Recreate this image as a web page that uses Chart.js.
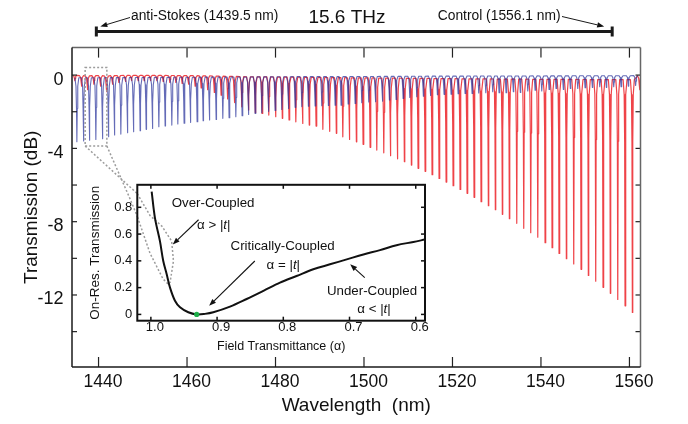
<!DOCTYPE html>
<html><head><meta charset="utf-8">
<script src="https://cdn.jsdelivr.net/npm/chart.js@4.4.1/dist/chart.umd.min.js"></script>
<style>
html,body{margin:0;padding:0;background:#fff;}
#wrap{position:relative;width:688px;height:424px;overflow:hidden;background:#fff;}
#main{position:absolute;left:0;top:0;z-index:1;}
#inset{position:absolute;left:60px;top:172px;z-index:2;}
</style></head>
<body><div id="wrap"><canvas id="main" width="688" height="424"></canvas><canvas id="inset" width="380" height="190"></canvas></div>
<script>
// ---------------- data ----------------
const blueWavelength = [1435.10, 1436.59, 1437.94, 1439.39, 1440.88, 1442.24, 1443.59, 1445.04, 1446.53, 1447.89, 1449.40, 1450.76, 1452.18, 1453.63, 1455.05, 1456.56, 1457.92, 1459.34, 1460.77, 1462.28, 1463.64, 1465.06,
 1466.58, 1468.09, 1469.51, 1471.03, 1472.45, 1473.88, 1475.39, 1476.90, 1478.40, 1479.91, 1481.42, 1482.92, 1484.43, 1485.94, 1487.43, 1488.95, 1490.46, 1491.95, 1493.47,
 1494.82, 1496.41, 1497.99, 1499.50, 1501.08, 1502.58, 1504.16, 1505.74, 1507.25, 1508.84, 1510.35, 1511.93, 1513.42, 1515.01, 1516.59, 1518.10, 1519.68, 1521.27, 1522.85, 1524.43, 1525.94, 1527.53,
 1529.10, 1530.53, 1532.11, 1533.76, 1535.34, 1537.02, 1538.67, 1540.18, 1541.83, 1543.41, 1545.06, 1546.64, 1548.32, 1549.97, 1551.62, 1553.29, 1554.78, 1556.45, 1558.10, 1559.75, 1561.40];
const blueDepth = [-3.64, -3.60, -3.55, -3.51, -3.47, -3.36, -3.27, -3.22, -3.15, -3.09, -3.04, -2.96, -2.91, -2.82, -2.78, -2.73, -2.67, -2.63, -2.58, -2.55, -2.49, -2.45,
 -2.42, -2.36, -2.33, -2.27, -2.22, -2.15, -2.09, -2.05, -1.98, -1.93, -1.88, -1.82, -1.76, -1.72, -1.70, -1.68, -1.67, -1.66, -1.65,
 -1.64, -1.58, -1.55, -1.51, -1.47, -1.45, -1.42, -1.36, -1.33, -1.27, -1.22, -1.18, -1.15, -1.11, -1.07, -1.05, -1.04, -1.02, -1.00, -1.00, -0.98, -0.96,
 -0.91, -0.96, -0.96, -0.91, -0.95, -0.86, -0.82, -0.86, -0.78, -0.73, -0.78, -0.73, -0.73, -0.69, -0.67, -0.64, -0.67, -0.64, -0.64, -0.60, -0.56];
const redWavelength = [1434.64, 1436.14, 1437.49, 1438.94, 1440.43, 1441.79, 1443.14, 1444.59, 1446.08, 1447.44, 1448.95, 1450.31, 1451.73, 1453.18, 1454.60, 1456.11, 1457.47, 1458.89, 1460.32, 1461.83, 1463.19, 1464.66, 1466.17, 1467.71, 1469.18, 1470.71,
 1472.38, 1473.90, 1475.43, 1476.96, 1478.48, 1480.01, 1481.54, 1483.06, 1484.59, 1486.12, 1487.63, 1489.17, 1490.70, 1492.21, 1493.75,
 1495.21, 1496.70, 1498.28, 1499.80, 1501.38, 1502.89, 1504.47, 1505.97, 1507.55, 1509.13, 1510.71, 1512.23, 1513.81, 1515.39, 1516.97, 1518.56, 1520.14, 1521.72, 1523.30, 1524.88, 1526.46, 1528.11,
 1529.69, 1531.27, 1532.86, 1534.53, 1536.11, 1537.69, 1539.28, 1540.93, 1542.51, 1544.09, 1545.74, 1547.41, 1549.06, 1550.71, 1552.38, 1554.03, 1555.68, 1557.36, 1559.01, 1560.66, 1562.29];
const redDepth = [-0.30, -0.60, -0.80, -0.50, -0.60, -0.90, -0.50, -0.40, -0.35, -0.30, -0.30, -0.30, -0.30, -0.30, -0.35, -0.40, -0.40, -0.45, -0.50, -0.60, -0.70, -0.80, -0.95, -1.10, -1.30, -1.50,
 -1.73, -1.91, -2.05, -2.09, -2.18, -2.27, -2.36, -2.45, -2.55, -2.64, -2.73, -2.78, -2.96, -3.07, -3.18,
 -3.37, -3.51, -3.64, -3.78, -3.94, -4.09, -4.24, -4.40, -4.57, -4.73, -4.91, -5.09, -5.25, -5.44, -5.64, -5.84, -6.04, -6.24, -6.45, -6.67, -6.91, -7.13,
 -7.35, -7.60, -7.84, -8.09, -8.36, -8.60, -8.85, -9.15, -9.42, -9.73, -10.02, -10.31, -10.60, -10.93, -11.25, -11.58, -11.91, -12.24, -12.59, -12.95, -0.80];

const xTickValues = [1440, 1460, 1480, 1500, 1520, 1540, 1560];
const yTickValues = [0, -2, -4, -6, -8, -10, -12, -14];
const yTickLabels = [0, -4, -8, -12];

const antiStokesNm = 1439.5, controlNm = 1556.1;
const spanLabel = '15.6 THz';
const antiStokesLabel = 'anti-Stokes (1439.5 nm)';
const controlLabel = 'Control (1556.1 nm)';

// inset: on-resonance transmission vs field transmittance
const insetAlpha = [0.9988, 0.9938, 0.9863, 0.9813, 0.9761, 0.9711, 0.9636, 0.956, 0.9435, 0.9308, 0.9183, 0.9057, 0.8805, 0.8553, 0.830, 0.805, 0.780, 0.7547, 0.7295, 0.7042, 0.679, 0.654, 0.629, 0.6036, 0.586];
const insetTransmission = [0.917, 0.719, 0.547, 0.399, 0.30, 0.20, 0.102, 0.053, 0.016, 0.0, 0.004, 0.016, 0.058, 0.115, 0.176, 0.238, 0.287, 0.337, 0.374, 0.411, 0.448, 0.48, 0.517, 0.541, 0.559];
const criticalAlpha = [0.9308], criticalTransmission = [0];
const insetXTicks = [1.0, 0.9, 0.8, 0.7, 0.6];
const insetYTicks = [0, 0.2, 0.4, 0.6, 0.8];

// zoom-box (main coords) and projection outline (inset coords)
const zoomBoxNm = [1436.97, 1441.88], zoomBoxDb = [0.42, -3.87];
const projLine1 = {alpha: [1.0205, 1.0014, 0.9832, 0.9686, 0.9659, 0.9711], T: [0.902, 0.739, 0.658, 0.547, 0.399, 0.236]};
const projLine2 = {alpha: [1.0316, 1.0205, 1.0014, 0.9817, 0.9742], T: [0.865, 0.732, 0.458, 0.265, 0.228]};

// ---------------- helpers ----------------
const FONT = "'Liberation Sans', Arial, Helvetica, sans-serif";
Chart.defaults.font.family = FONT;
Chart.defaults.color = '#111';
const INSET_LEFT = 60, INSET_TOP = 172;

// resonance-dip mark shape: offset (nm) and Lorentzian fraction of the dip
const dipShape = [[-0.44, 0.059], [-0.2, 0.23], [-0.088, 0.6], [0, 1], [0.088, 0.6], [0.2, 0.23], [0.44, 0.059]];
function dipSeries(centers, depths) {
  const pts = [];
  centers.forEach((c, i) => {
    const D = 1 - Math.pow(10, depths[i] / 10);
    dipShape.forEach(([dx, f]) => pts.push({x: c + dx, y: 10 * Math.log10(1 - D * f)}));
  });
  return pts;
}
function line(ctx, x1, y1, x2, y2) { ctx.beginPath(); ctx.moveTo(x1, y1); ctx.lineTo(x2, y2); ctx.stroke(); }
function arrow(ctx, x1, y1, x2, y2, head, half) {
  head = head || 7; half = half || 2.6;
  const ang = Math.atan2(y2 - y1, x2 - x1);
  const bx = x2 - head * Math.cos(ang), by = y2 - head * Math.sin(ang);
  line(ctx, x1, y1, bx, by);
  ctx.beginPath();
  ctx.moveTo(x2, y2);
  ctx.lineTo(bx + half * Math.sin(ang), by - half * Math.cos(ang));
  ctx.lineTo(bx - half * Math.sin(ang), by + half * Math.cos(ang));
  ctx.closePath(); ctx.fill();
}
function richText(ctx, parts, cx, cy, size) {
  let w = 0;
  const widths = parts.map(([t, it]) => { ctx.font = (it ? 'italic ' : '') + size + 'px ' + FONT; const m = ctx.measureText(t).width; w += m; return m; });
  let x = cx - w / 2;
  ctx.textAlign = 'left'; ctx.textBaseline = 'middle';
  parts.forEach(([t, it], i) => { ctx.font = (it ? 'italic ' : '') + size + 'px ' + FONT; ctx.fillText(t, x, cy); x += widths[i]; });
}

// ---------------- inset chart ----------------
const insetNotes = [
  {parts: [['Over-Coupled', false]], a: 0.906, t: 0.832},
  {parts: [['α > |', false], ['t', true], ['|', false]], a: 0.905, t: 0.665},
  {parts: [['Critically-Coupled', false]], a: 0.801, t: 0.51},
  {parts: [['α = |', false], ['t', true], ['|', false]], a: 0.800, t: 0.369},
  {parts: [['Under-Coupled', false]], a: 0.666, t: 0.176},
  {parts: [['α < |', false], ['t', true], ['|', false]], a: 0.663, t: 0.036}
];
const insetArrows = [
  {from: [0.928, 0.707], to: [0.967, 0.522]},
  {from: [0.843, 0.399], to: [0.912, 0.065]},
  {from: [0.677, 0.275], to: [0.699, 0.374]}
];

const insetPlugin = {
  id: 'insetPlugin',
  beforeDraw(c) {
    const {ctx, chartArea: a} = c;
    ctx.save(); ctx.fillStyle = '#fff'; ctx.fillRect(a.left, a.top, a.right - a.left, a.bottom - a.top); ctx.restore();
  },
  beforeDatasetsDraw(c) {
    const {ctx, chartArea: a, scales: {x, y}} = c;
    ctx.save();
    ctx.beginPath(); ctx.rect(a.left, a.top, a.right - a.left, a.bottom - a.top); ctx.clip();
    ctx.strokeStyle = '#9c9c9c'; ctx.lineWidth = 1.5; ctx.setLineDash([2, 2]);
    [projLine1, projLine2].forEach(L => {
      ctx.beginPath();
      L.alpha.forEach((al, i) => { const px = x.getPixelForValue(al), py = y.getPixelForValue(L.T[i]); i ? ctx.lineTo(px, py) : ctx.moveTo(px, py); });
      ctx.stroke();
    });
    ctx.restore();
  },
  afterDraw(c) {
    const {ctx, chartArea: a, scales: {x, y}} = c;
    ctx.save();
    ctx.strokeStyle = '#111'; ctx.lineWidth = 1.5;
    insetXTicks.forEach(v => { const px = x.getPixelForValue(v); line(ctx, px, a.bottom, px, a.bottom - 4); line(ctx, px, a.top, px, a.top + 4); });
    insetYTicks.forEach(v => { const py = y.getPixelForValue(v); line(ctx, a.left, py, a.left + 4, py); line(ctx, a.right, py, a.right - 4, py); });
    ctx.lineWidth = 2;
    ctx.strokeRect(a.left, a.top, a.right - a.left, a.bottom - a.top);
    ctx.fillStyle = '#111';
    insetNotes.forEach(n => richText(ctx, n.parts, x.getPixelForValue(n.a), y.getPixelForValue(n.t), 13.3));
    ctx.lineWidth = 1.1;
    insetArrows.forEach(ar => arrow(ctx, x.getPixelForValue(ar.from[0]), y.getPixelForValue(ar.from[1]), x.getPixelForValue(ar.to[0]), y.getPixelForValue(ar.to[1]), 7, 2.6));
    ctx.restore();
  }
};

const insetChart = new Chart(document.getElementById('inset'), {
  type: 'line',
  data: {datasets: [
    {data: criticalAlpha.map((a, i) => ({x: a, y: criticalTransmission[i]})), showLine: false, pointRadius: 2.6, pointBackgroundColor: '#1fae4a', pointBorderWidth: 0},
    {data: insetAlpha.map((a, i) => ({x: a, y: insetTransmission[i]})), borderColor: '#111', borderWidth: 2, pointRadius: 0, tension: 0.35, fill: false}
  ]},
  options: {
    responsive: false, animation: false, devicePixelRatio: 1,
    layout: {padding: {left: 0, right: 15, top: 10.7, bottom: 0}},
    plugins: {legend: {display: false}, tooltip: {enabled: false}},
    scales: {
      x: {type: 'linear', reverse: true, min: 0.586, max: 1.0205,
        grid: {display: false, drawTicks: false}, border: {display: false},
        afterBuildTicks: s => { s.ticks = insetXTicks.map(v => ({value: v})); },
        ticks: {autoSkip: false, maxRotation: 0, padding: 0.5, labelOffset: 4, font: {size: 13, lineHeight: 1}, color: '#111', callback: v => Number(v).toFixed(1)},
        title: {display: true, text: 'Field Transmittance (α)', font: {size: 12.5}, color: '#111', padding: {top: 0, bottom: 8}},
        afterFit: s => { s.height = 41.3; }
      },
      y: {type: 'linear', min: -0.047, max: 0.968,
        grid: {display: false, drawTicks: false}, border: {display: false},
        afterBuildTicks: s => { s.ticks = insetYTicks.map(v => ({value: v})); },
        ticks: {autoSkip: false, padding: 5, font: {size: 13}, color: '#111', callback: v => v === 0 ? '0' : Number(v).toFixed(1)},
        title: {display: true, text: 'On-Res. Transmission', font: {size: 13.5}, color: '#111', padding: {top: 27.4, bottom: 0}},
        afterFit: s => { s.width = 77.3; }
      }
    }
  },
  plugins: [insetPlugin]
});

// ---------------- main chart ----------------
const mainPlugin = {
  id: 'mainPlugin',
  beforeDraw(c) { const {ctx} = c; ctx.save(); ctx.fillStyle = '#fff'; ctx.fillRect(0, 0, c.width, c.height); ctx.restore(); },
  afterDraw(c) {
    const {ctx, chartArea: a, scales: {x, y}} = c;
    ctx.save();
    // inward ticks
    ctx.strokeStyle = '#222'; ctx.lineWidth = 1.2;
    xTickValues.forEach(v => { const px = x.getPixelForValue(v); line(ctx, px, a.bottom, px, a.bottom - 10); line(ctx, px, a.top, px, a.top + 10); });
    yTickValues.forEach(v => { const py = y.getPixelForValue(v); line(ctx, a.left, py, a.left + 5, py); line(ctx, a.right, py, a.right - 5, py); });
    // frame
    ctx.lineWidth = 1.5;
    ctx.strokeStyle = '#666';
    line(ctx, a.left, a.top, a.right, a.top); line(ctx, a.right, a.top, a.right, a.bottom);
    ctx.strokeStyle = '#1a1a1a';
    line(ctx, a.left, a.top, a.left, a.bottom); line(ctx, a.left, a.bottom, a.right, a.bottom);

    // zoom box + projection lines to inset
    const bx1 = x.getPixelForValue(zoomBoxNm[0]), bx2 = x.getPixelForValue(zoomBoxNm[1]);
    const by1 = y.getPixelForValue(zoomBoxDb[0]), by2 = y.getPixelForValue(zoomBoxDb[1]);
    ctx.strokeStyle = '#9c9c9c'; ctx.lineWidth = 1.5; ctx.setLineDash([2, 2]);
    ctx.strokeRect(bx1, by1, bx2 - bx1, by2 - by1);
    const ix = insetChart.scales.x, iy = insetChart.scales.y;
    [[bx1, projLine1], [bx2, projLine2]].forEach(([sx, L]) => {
      ctx.beginPath(); ctx.moveTo(sx, by2);
      L.alpha.forEach((al, i) => ctx.lineTo(INSET_LEFT + ix.getPixelForValue(al), INSET_TOP + iy.getPixelForValue(L.T[i])));
      ctx.stroke();
    });
    ctx.setLineDash([]);

    // top span annotation
    const x1 = x.getPixelForValue(antiStokesNm), x2 = x.getPixelForValue(controlNm);
    const yb = 31.5;
    ctx.strokeStyle = '#1a1a1a'; ctx.fillStyle = '#1a1a1a';
    ctx.lineWidth = 3;
    line(ctx, x1, yb, x2, yb);
    line(ctx, x1, yb - 5, x1, yb + 5); line(ctx, x2, yb - 5, x2, yb + 5);
    ctx.fillStyle = '#111';
    ctx.textBaseline = 'middle';
    ctx.font = '19px ' + FONT; ctx.textAlign = 'center'; ctx.fillText(spanLabel, 347, 17.5);
    ctx.font = '13.8px ' + FONT; ctx.textAlign = 'left'; ctx.fillText(antiStokesLabel, 131, 16);
    ctx.textAlign = 'right'; ctx.fillText(controlLabel, 560.5, 16);
    ctx.lineWidth = 1;
    arrow(ctx, 130, 17.5, x1 + 4, 26.5, 7, 2.6);
    arrow(ctx, 562, 16.5, x2 - 8, 26.5, 7, 2.6);
    ctx.restore();
  }
};

new Chart(document.getElementById('main'), {
  type: 'line',
  data: {datasets: [
    {data: dipSeries(blueWavelength, blueDepth), borderColor: 'rgba(40,50,155,0.72)', borderWidth: 1.1, pointRadius: 0, borderJoinStyle: 'round', tension: 0, fill: false},
    {data: dipSeries(redWavelength, redDepth), borderColor: 'rgba(236,34,40,0.85)', borderWidth: 1.2, pointRadius: 0, borderJoinStyle: 'round', tension: 0, fill: false}
  ]},
  options: {
    responsive: false, animation: false, devicePixelRatio: 1,
    layout: {padding: {left: 0, right: 47.5, top: 47.6, bottom: 0}},
    plugins: {legend: {display: false}, tooltip: {enabled: false}},
    scales: {
      x: {type: 'linear', min: 1434, max: 1562.5,
        grid: {display: false, drawTicks: false}, border: {display: false},
        afterBuildTicks: s => { s.ticks = xTickValues.map(v => ({value: v})); },
        ticks: {autoSkip: false, maxRotation: 0, padding: 5, labelOffset: 4.5, font: {size: 17.5}, color: '#111', callback: v => String(v)},
        title: {display: true, text: 'Wavelength  (nm)', font: {size: 19}, color: '#111', padding: {top: 0, bottom: 6.6}},
        afterFit: s => { s.height = 57; }
      },
      y: {type: 'linear', min: -15.93, max: 1.5,
        grid: {display: false, drawTicks: false}, border: {display: false},
        afterBuildTicks: s => { s.ticks = yTickValues.map(v => ({value: v})); },
        ticks: {autoSkip: false, padding: 8.5, labelOffset: 4.5, font: {size: 18}, color: '#111', callback: v => yTickLabels.includes(v) ? String(v) : ''},
        title: {display: true, text: 'Transmission (dB)', font: {size: 19}, color: '#111', padding: {top: 20.5, bottom: 0}},
        afterFit: s => { s.width = 72; }
      }
    }
  },
  plugins: [mainPlugin]
});
</script></body></html>
